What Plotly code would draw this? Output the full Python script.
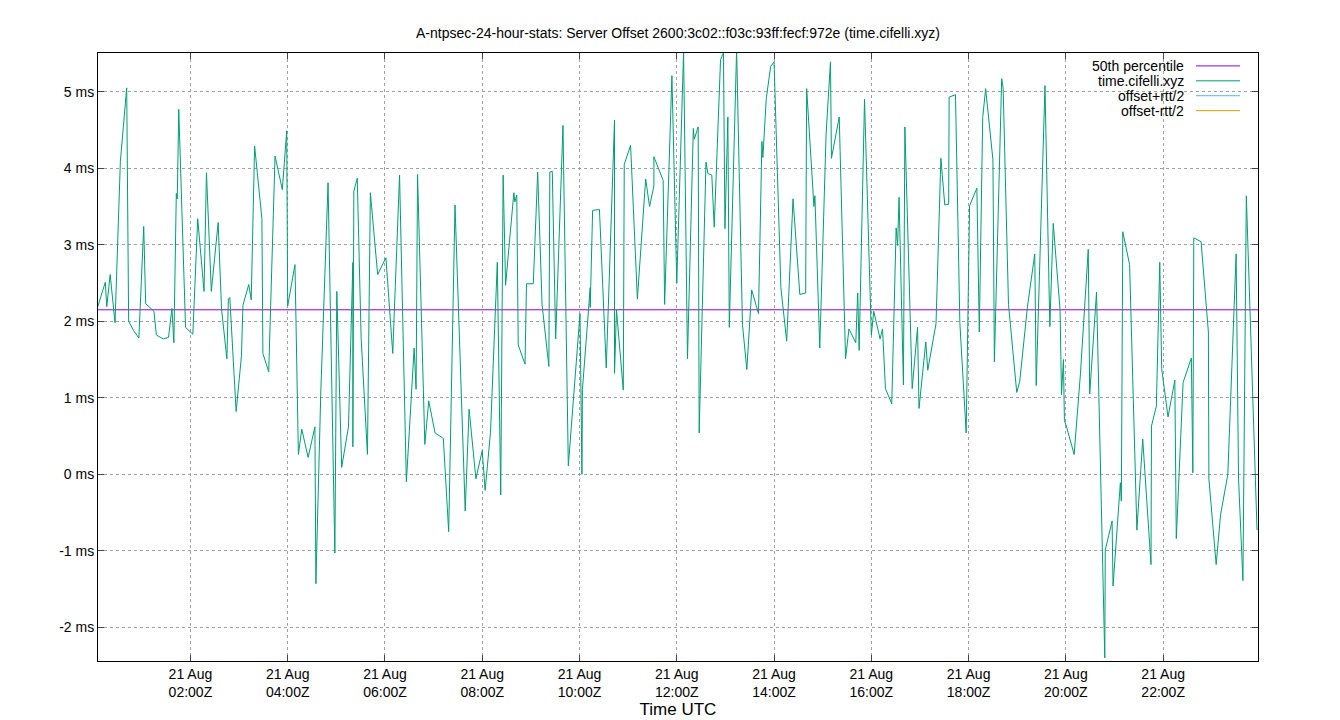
import pandas as pd
import plotly.graph_objects as go

# offset samples for time.cifelli.xyz, hours after 00:00Z on 21 Aug, offset in ms
hours = [0.08, 0.25, 0.28, 0.35, 0.45, 0.56, 0.69, 0.73, 0.83, 0.94, 1.04, 1.08, 1.25, 1.30, 1.44,
         1.55, 1.62, 1.66, 1.71, 1.73, 1.76, 1.90, 2.05, 2.15, 2.28, 2.33, 2.43, 2.57, 2.64, 2.75,
         2.78, 2.81, 2.94, 3.05, 3.08, 3.20, 3.25, 3.32, 3.47, 3.49, 3.61, 3.74, 3.89, 3.98, 4.00,
         4.15, 4.22, 4.29, 4.42, 4.56, 4.58, 4.68, 4.83, 4.97, 5.01, 5.11, 5.25, 5.34, 5.34, 5.36,
         5.43, 5.51, 5.64, 5.70, 5.85, 6.02, 6.16, 6.30, 6.44, 6.60, 6.64, 6.67, 6.82, 6.90, 7.03,
         7.20, 7.31, 7.44, 7.65, 7.73, 7.87, 8.00, 8.06, 8.17, 8.31, 8.38, 8.43, 8.48, 8.65, 8.67,
         8.71, 8.74, 8.88, 8.91, 9.05, 9.14, 9.23, 9.37, 9.39, 9.44, 9.51, 9.66, 9.77, 10.01, 10.05,
         10.06, 10.22, 10.22, 10.27, 10.41, 10.55, 10.72, 10.72, 10.76, 10.90, 10.92, 11.05, 11.19,
         11.36, 11.44, 11.53, 11.53, 11.72, 11.75, 11.90, 12.00, 12.14, 12.22, 12.34, 12.36, 12.44,
         12.46, 12.60, 12.64, 12.72, 12.77, 12.90, 12.96, 12.99, 13.05, 13.08, 13.23, 13.35, 13.44,
         13.54, 13.68, 13.75, 13.77, 13.84, 13.93, 14.00, 14.14, 14.26, 14.39, 14.53, 14.65, 14.67,
         14.82, 14.84, 14.94, 15.07, 15.16, 15.18, 15.34, 15.47, 15.54, 15.68, 15.72, 15.75, 15.86,
         16.00, 16.05, 16.18, 16.23, 16.29, 16.42, 16.51, 16.54, 16.57, 16.66, 16.69, 16.84, 16.95,
         16.98, 17.12, 17.16, 17.33, 17.43, 17.51, 17.59, 17.60, 17.73, 17.82, 17.95, 18.02, 18.17,
         18.22, 18.29, 18.35, 18.50, 18.53, 18.68, 18.71, 18.82, 18.99, 19.05, 19.21, 19.36, 19.39,
         19.57, 19.67, 19.74, 19.88, 19.91, 19.95, 19.97, 20.01, 20.17, 20.30, 20.46, 20.49, 20.63,
         20.80, 20.81, 20.95, 20.97, 21.12, 21.14, 21.17, 21.31, 21.46, 21.58, 21.75, 21.76, 21.86,
         21.93, 21.97, 22.10, 22.24, 22.27, 22.41, 22.58, 22.61, 22.63, 22.78, 22.93, 22.94, 23.09,
         23.18, 23.33, 23.50, 23.55, 23.64, 23.71, 23.93]
offset_ms = [2.16, 2.51, 2.19, 2.61, 1.98, 4.09, 5.05, 2.00, 1.88, 1.78, 3.24, 2.23, 2.13, 1.82, 1.77,
             1.79, 2.17, 1.72, 3.67, 3.60, 4.77, 1.92, 1.83, 3.34, 2.39, 3.94, 2.39, 3.29, 2.16, 1.51,
             2.29, 2.31, 0.82, 1.55, 2.21, 2.48, 2.28, 4.29, 3.34, 1.58, 1.34, 4.16, 3.72, 4.49, 2.20,
             2.74, 0.26, 0.59, 0.22, 0.62, -1.43, 1.06, 3.81, -1.03, 2.39, 0.09, 0.62, 2.77, 0.36, 3.70,
             3.87, 1.78, 0.26, 3.68, 2.61, 2.83, 1.58, 3.91, -0.10, 1.65, 1.11, 3.92, 0.39, 0.96, 0.54,
             0.47, -0.75, 3.52, -0.48, 0.85, -0.06, 0.31, -0.21, 0.55, 2.77, -0.27, 3.91, 2.47, 3.68, 3.56,
             3.65, 1.69, 1.44, 2.49, 2.49, 3.95, 2.22, 1.41, 3.95, 3.96, 1.77, 4.56, 0.11, 2.10, 0.00,
             1.11, 2.44, 2.18, 3.45, 3.46, 1.39, 4.63, 1.32, 2.15, 1.10, 4.05, 4.30, 2.29,
             3.86, 3.50, 3.77, 4.15, 3.84, 2.22, 5.21, 2.50, 5.52, 1.51, 4.52, 4.38, 4.54,
             0.54, 4.08, 3.93, 3.91, 3.23, 5.42, 5.51, 3.21, 4.67, 1.92, 5.55, 1.96, 1.37,
             2.41, 2.10, 4.35, 4.14, 4.91, 5.33, 5.39, 2.44, 1.74, 3.60, 2.35, 2.37, 5.04,
             3.50, 3.64, 1.65, 4.45, 5.39, 4.13, 4.67, 1.51, 1.90, 1.72, 2.37, 1.62, 4.90,
             1.82, 2.13, 1.77, 1.90, 1.12, 0.92, 3.22, 2.99, 3.62, 1.17, 4.54, 1.12, 1.92,
             0.86, 1.73, 1.36, 1.97, 4.13, 3.52, 3.53, 4.93, 4.96, 1.98, 0.54, 3.51, 3.74,
             1.86, 4.66, 5.04, 4.11, 1.47, 5.17, 5.05, 2.22, 1.07, 1.21, 2.19, 2.88, 1.16,
             5.08, 1.93, 3.28, 2.15, 1.04, 1.50, 0.70, 0.63, 0.26, 1.32, 2.94, 1.05, 2.38,
             -2.40, -0.99, -0.61, -1.46, -0.11, -0.35, 3.17, 2.74, -0.73, 0.46, -1.18, 0.63, 0.89,
             2.77, 1.38, 0.75, 1.23, -0.84, 1.20, 1.52, 0.02, 3.09, 3.04, 1.86, -0.06, -1.18,
             -0.53, 0.00, 2.88, -0.06, -1.39, 3.64, -0.73]
median_ms = 2.15

tick_hours = [2, 4, 6, 8, 10, 12, 14, 16, 18, 20, 22]
y_ticks = [-2, -1, 0, 1, 2, 3, 4, 5]

day = pd.Timestamp("2024-08-21")
times = day + pd.to_timedelta(hours, unit="h")
t0 = day + pd.Timedelta(hours=0.1)
t1 = day + pd.Timedelta(hours=23.95)

fig = go.Figure()
fig.add_trace(go.Scatter(x=[t0, t1], y=[median_ms, median_ms], mode="lines",
                         line=dict(color="#9400d3", width=1), name="50th percentile"))
fig.add_trace(go.Scatter(x=times, y=offset_ms, mode="lines",
                         line=dict(color="#009e73", width=1), name="time.cifelli.xyz"))

# legend drawn gnuplot style: text right-aligned, sample line to its right
legend = [("50th percentile", "#9400d3"), ("time.cifelli.xyz", "#009e73"),
          ("offset+rtt/2", "#56b4e9"), ("offset-rtt/2", "#e69f00")]
for i, (label, col) in enumerate(legend):
    ypix = 58 + i * 15
    yp = 1 - (ypix - 45) / 612
    fig.add_annotation(xref="paper", yref="paper", x=(1178 - 90) / 1160, y=yp, text=label,
                       showarrow=False, xanchor="right", yanchor="middle",
                       font=dict(size=14, color="black"))
    fig.add_shape(type="line", xref="paper", yref="paper",
                  x0=(1188 - 90) / 1160, x1=(1232 - 90) / 1160, y0=yp, y1=yp,
                  line=dict(color=col, width=1))

fig.update_layout(
    width=1340, height=720,
    margin=dict(l=90, r=90, t=45, b=63),
    paper_bgcolor="white", plot_bgcolor="white",
    font=dict(family="Liberation Sans, Arial", size=14, color="black"),
    showlegend=False,
    title=dict(text="A-ntpsec-24-hour-stats: Server Offset 2600:3c02::f03c:93ff:fecf:972e (time.cifelli.xyz)",
               x=0.5, xanchor="center", y=0.972, font=dict(size=14)),
)
fig.update_xaxes(
    range=[t0, t1],
    tickvals=[day + pd.Timedelta(hours=h) for h in tick_hours],
    ticktext=["21 Aug<br>%02d:00Z" % h for h in tick_hours],
    showgrid=True, gridcolor="#a0a0a0", griddash="dot", gridwidth=1,
    showline=True, linecolor="black", mirror="ticks", ticks="inside", ticklen=6,
    title=dict(text="Time UTC", standoff=4), zeroline=False,
)
fig.update_yaxes(
    range=[-2.44, 5.506],
    tickvals=y_ticks, ticktext=["%d ms" % v for v in y_ticks],
    showgrid=True, gridcolor="#a0a0a0", griddash="dot", gridwidth=1,
    showline=True, linecolor="black", mirror="ticks", ticks="inside", ticklen=6,
    zeroline=False,
)

fig.write_html("out.html")
